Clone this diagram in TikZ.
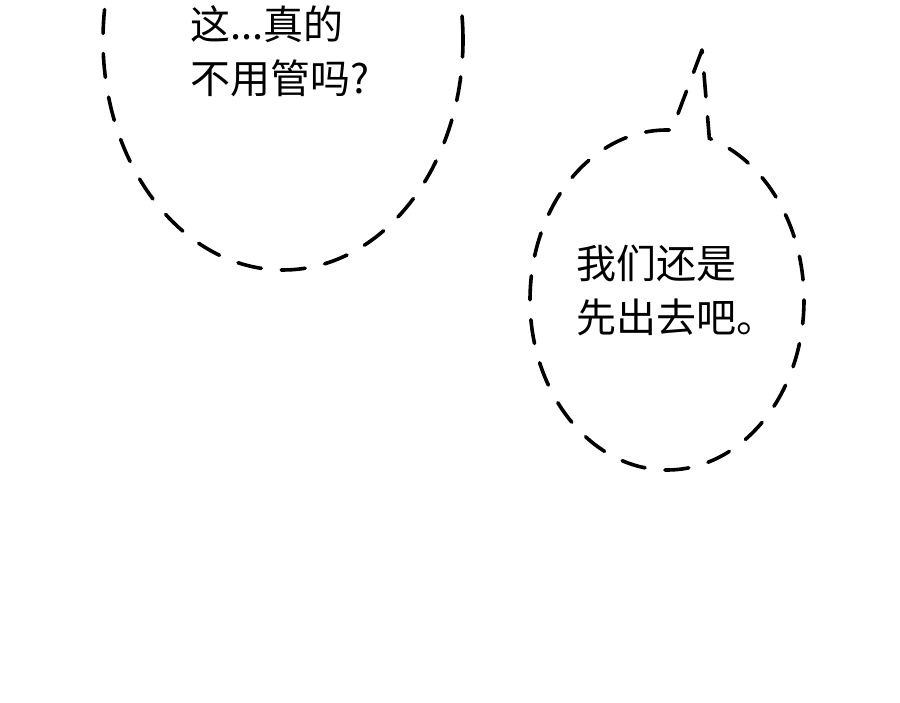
\documentclass[tikz,border=0pt]{standalone}
\usepackage{fontspec}
\newfontfamily\cjk{Noto Sans CJK SC}
\usetikzlibrary{calc}
\begin{document}
\begin{tikzpicture}[x=1pt,y=1pt,
  bub/.style={line width=3.6pt,dash pattern=on 24pt off 20pt,line cap=round,black},
  txt/.style={font=\cjk\fontsize{40}{54}\selectfont,align=left,inner sep=0pt}]
\useasboundingbox (0,0) rectangle (900,703);
\fill[white] (0,0) rectangle (900,703);
\begin{scope}
\clip (0,0) rectangle (900,703);
\coordinate (c1) at (283,663);
\draw[bub] (c1) ellipse[x radius=180,y radius=230];
\end{scope}
\node[txt,anchor=north west] (t1) at (190,698) {这...真的\\不用管吗?};
\coordinate (c2) at (667,403);
\coordinate (tip) at (702,653);
\draw[bub] (tip) -- ($(c2)+(88:137 and 170)$) arc[start angle=88,end angle=432,x radius=137,y radius=170] -- cycle;
\node[txt,anchor=north west] (t2) at (576,458) {我们还是\\先出去吧。};
\end{tikzpicture}
\end{document}
